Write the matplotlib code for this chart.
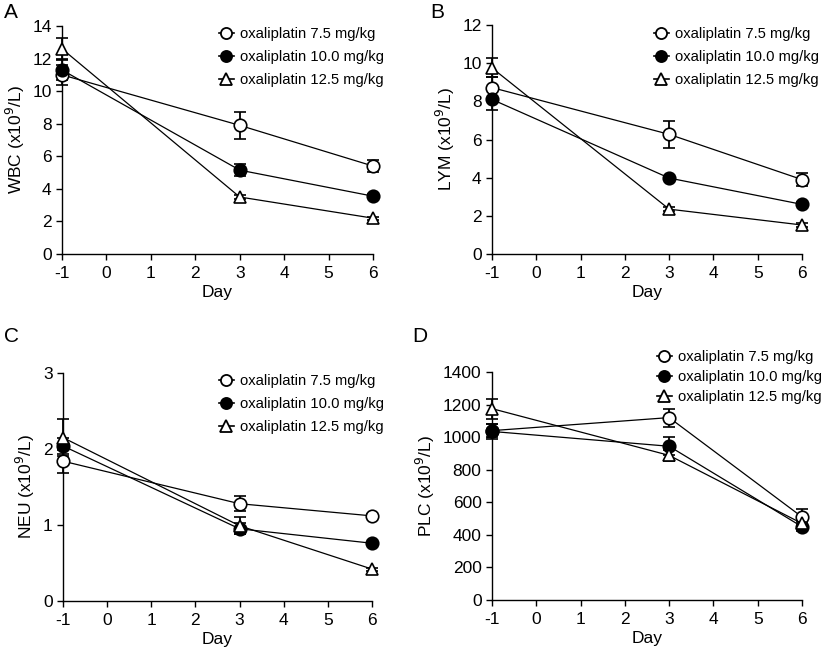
import matplotlib
matplotlib.use("Agg")
import matplotlib.pyplot as plt
from matplotlib.lines import Line2D

plt.rcParams['font.family'] = ['Liberation Sans', 'DejaVu Sans']
plt.rcParams['axes.unicode_minus'] = False

days = [-1, 3, 6]
labels = ["oxaliplatin 7.5 mg/kg", "oxaliplatin 10.0 mg/kg", "oxaliplatin 12.5 mg/kg"]

# Panel A: WBC
wbc_75 = [11.0, 7.9, 5.4]
wbc_75_err = [0.63, 0.82, 0.35]
wbc_10 = [11.3, 5.15, 3.55]
wbc_10_err = [0.6, 0.35, 0.12]
wbc_125 = [12.6, 3.5, 2.2]
wbc_125_err = [0.65, 0.1, 0.1]

# Panel B: LYM
lym_75 = [8.72, 6.27, 3.9]
lym_75_err = [0.55, 0.7, 0.35]
lym_10 = [8.1, 3.98, 2.6]
lym_10_err = [0.55, 0.12, 0.1]
lym_125 = [9.75, 2.35, 1.52]
lym_125_err = [0.5, 0.1, 0.1]

# Panel C: NEU
neu_75 = [1.84, 1.28, 1.12]
neu_75_err = [0.15, 0.1, 0.03]
neu_10 = [2.04, 0.95, 0.76]
neu_10_err = [0.1, 0.07, 0.02]
neu_125 = [2.15, 0.99, 0.42]
neu_125_err = [0.24, 0.11, 0.02]

# Panel D: PLC
plc_75 = [1040, 1120, 510]
plc_75_err = [40, 55, 47]
plc_10 = [1035, 944, 450]
plc_10_err = [45, 55, 27]
plc_125 = [1175, 888, 470]
plc_125_err = [62, 35, 25]

W, H = 828, 650
fig = plt.figure(figsize=(W / 100, H / 100), dpi=100)

def ax_at(x0, x1, ytop, ybot):
    return fig.add_axes([x0 / W, 1 - ybot / H, (x1 - x0) / W, (ybot - ytop) / H])

panels = [
    dict(box=(62, 373, 26, 254), ylim=14, yticks=[0, 2, 4, 6, 8, 10, 12, 14], name="WBC",
         data=[(wbc_75, wbc_75_err), (wbc_10, wbc_10_err), (wbc_125, wbc_125_err)],
         letter="A", lpos=(4, 3), leg=(219, 27), ls=0.6),
    dict(box=(492, 802, 25, 254), ylim=12, yticks=[0, 2, 4, 6, 8, 10, 12], name="LYM",
         data=[(lym_75, lym_75_err), (lym_10, lym_10_err), (lym_125, lym_125_err)],
         letter="B", lpos=(430, 3), leg=(654, 27), ls=0.6),
    dict(box=(63, 372, 373, 601), ylim=3, yticks=[0, 1, 2, 3], name="NEU",
         data=[(neu_75, neu_75_err), (neu_10, neu_10_err), (neu_125, neu_125_err)],
         letter="C", lpos=(4, 327), leg=(219, 374), ls=0.6),
    dict(box=(492, 802, 372, 600), ylim=1400, yticks=[0, 200, 400, 600, 800, 1000, 1200, 1400], name="PLC",
         data=[(plc_75, plc_75_err), (plc_10, plc_10_err), (plc_125, plc_125_err)],
         letter="D", lpos=(412, 327), leg=(657, 350), ls=0.4),
]

styles = [
    dict(marker='o', mfc='white', mec='black'),
    dict(marker='o', mfc='black', mec='black'),
    dict(marker='^', mfc='white', mec='black'),
]

for p in panels:
    ax = ax_at(*p['box'])
    handles = []
    for (vals, errs), st, lab in zip(p['data'], styles, labels):
        eb = ax.errorbar(days, vals, yerr=errs, color='black', lw=0.9, elinewidth=1.3,
                         capsize=4.3, capthick=1.3, ms=9, mew=1.2, label=lab,
                         clip_on=False, zorder=3, **st)
        for art in eb.get_children():
            art.set_clip_on(False)
        handles.append(Line2D([], [], color='black', lw=1.2, ms=8, mew=1.3, **st))
    ax.set_xlim(-1, 6)
    ax.set_ylim(0, p['ylim'])
    ax.set_xticks(range(-1, 7))
    ax.set_yticks(p['yticks'])
    ax.tick_params(axis='both', direction='out', length=4, width=1, labelsize=12.5)
    ax.tick_params(axis='x', pad=4.5)
    ax.tick_params(axis='y', pad=3.5)
    for s in ['top', 'right']:
        ax.spines[s].set_visible(False)
    for s in ['left', 'bottom']:
        ax.spines[s].set_linewidth(1)
    ax.set_xlabel("Day", fontsize=12.5, labelpad=3)
    ax.set_ylabel(p['name'] + r" (x10$^{9}$/L)", fontsize=12.5, labelpad=4)
    fig.text(p['lpos'][0] / W, 1 - p['lpos'][1] / H, p['letter'], fontsize=15,
             va='top', ha='left')
    lx, ly = p['leg']
    ax.legend(handles=handles, labels=labels, loc='upper left',
              bbox_to_anchor=(lx / W, 1 - ly / H), bbox_transform=fig.transFigure,
              frameon=False, fontsize=10.6, handlelength=1.0, handletextpad=0.45,
              borderpad=0, borderaxespad=0, labelspacing=p['ls'])

fig.savefig("out.png", dpi=100)
